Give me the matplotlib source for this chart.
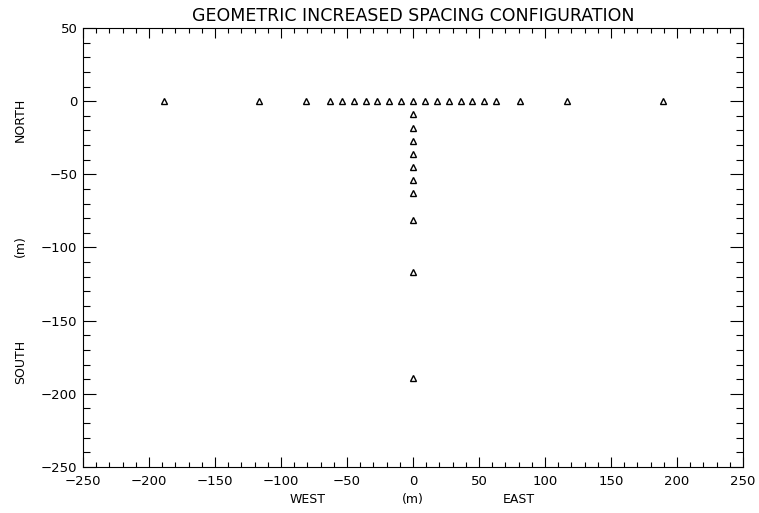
import matplotlib
matplotlib.use('Agg')
import matplotlib.pyplot as plt
import numpy as np
from matplotlib.ticker import MultipleLocator

# station offsets (m) along the east-west arm and the south arm
east_west = [-189, -117, -81, -63, -54, -45, -36, -27, -18, -9, 0,
             9, 18, 27, 36, 45, 54, 63, 81, 117, 189]
north_south = [-9, -18, -27, -36, -45, -54, -63, -81, -117, -189]

x = np.array(east_west + [0] * len(north_south))
y = np.array([0] * len(east_west) + north_south)

plt.rcParams['font.family'] = 'DejaVu Sans'
fig = plt.figure(figsize=(7.59, 5.13), dpi=100)
ax = fig.add_axes([0.1094, 0.0897, 0.979 - 0.1094, 0.9454 - 0.0897])

ax.plot(x, y, linestyle='none', marker='^', markersize=4.6,
        markerfacecolor='white', markeredgecolor='black', markeredgewidth=1.0)

ax.set_xlim(-250, 250)
ax.set_ylim(-250, 50)
ax.xaxis.set_major_locator(MultipleLocator(50))
ax.xaxis.set_minor_locator(MultipleLocator(10))
ax.yaxis.set_major_locator(MultipleLocator(50))
ax.yaxis.set_minor_locator(MultipleLocator(10))
ax.tick_params(which='both', direction='in', top=True, right=True,
               labelsize=9.5, width=0.8)
ax.tick_params(axis='x', which='major', length=7, pad=6)
ax.tick_params(axis='x', which='minor', length=3.6)
ax.tick_params(axis='y', which='major', length=9.5, pad=4)
ax.tick_params(axis='y', which='minor', length=5)
for s in ax.spines.values():
    s.set_linewidth(0.8)

ax.set_title('GEOMETRIC INCREASED SPACING CONFIGURATION', fontsize=12.5, pad=5)

# direction labels below / beside the axes
for xv, txt in [(-80, 'WEST'), (0, '(m)'), (80, 'EAST')]:
    ax.text(xv, -0.073, txt, transform=ax.get_xaxis_transform(),
            ha='center', va='center', fontsize=9)
for yv, txt in [(-13, 'NORTH'), (-99, '(m)'), (-178, 'SOUTH')]:
    ax.text(-0.095, yv, txt, transform=ax.get_yaxis_transform(),
            ha='center', va='center', rotation=90, fontsize=9)

fig.savefig('out.png', dpi=100)
